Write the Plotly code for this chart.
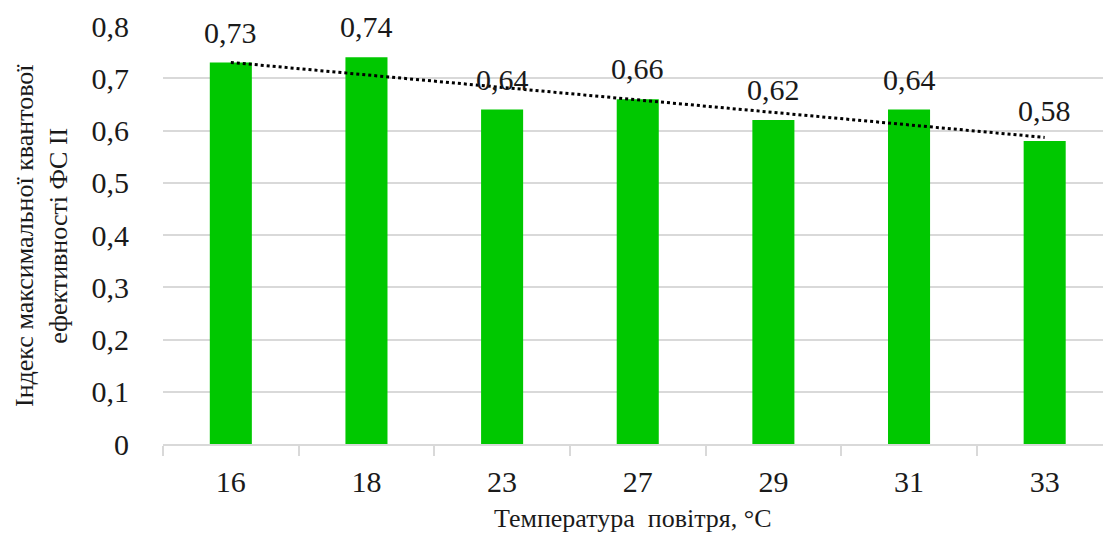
import numpy as np
import plotly.graph_objects as go

# Air temperature categories (°C) and PSII max quantum efficiency index
temperatures = ["16", "18", "23", "27", "29", "31", "33"]
fv_fm = [0.73, 0.74, 0.64, 0.66, 0.62, 0.64, 0.58]

y_tick_vals = [0, 0.1, 0.2, 0.3, 0.4, 0.5, 0.6, 0.7, 0.8]
y_tick_text = ["0", "0,1", "0,2", "0,3", "0,4", "0,5", "0,6", "0,7", "0,8"]

FONT = "Liberation Serif, Times New Roman, serif"
TEXT = "#1a1a1a"
BAR_COLOR = "#00C800"
GRID = "#D9D9D9"

# Linear trend over category positions 1..n
idx = np.arange(1, len(fv_fm) + 1)
slope, intercept = np.polyfit(idx, fv_fm, 1)
trend = slope * idx + intercept

fig = go.Figure()
fig.add_trace(go.Bar(
    x=temperatures, y=fv_fm,
    marker=dict(color=BAR_COLOR, line=dict(width=0)),
    hoverinfo="skip",
))
fig.add_trace(go.Scatter(
    x=temperatures, y=trend, mode="lines",
    line=dict(color="black", width=3, dash="dot"),
    hoverinfo="skip",
))

# Value labels above the bars (category index positions)
for i, v in enumerate(fv_fm):
    fig.add_annotation(
        x=i, y=v, xref="x", yref="y",
        text=f"{v:.2f}".replace(".", ","),
        showarrow=False, yanchor="bottom", yshift=12,
        font=dict(family=FONT, size=30, color=TEXT),
    )

# Axis titles
fig.add_annotation(
    x=-0.1298, y=0.5, xref="paper", yref="paper",
    text="Індекс максимальної квантової<br>ефективності ФС ІІ",
    textangle=-90, showarrow=False, xanchor="center", yanchor="middle",
    font=dict(family=FONT, size=26, color=TEXT),
)
fig.add_annotation(
    x=0.5, y=-0.178, xref="paper", yref="paper",
    text="Температура  повітря, °С",
    showarrow=False, xanchor="center", yanchor="middle",
    font=dict(family=FONT, size=26, color=TEXT),
)

fig.update_layout(
    width=1103, height=535,
    margin=dict(l=163, r=0, t=26, b=91),
    plot_bgcolor="white", paper_bgcolor="white",
    showlegend=False,
    bargap=0.69,
    font=dict(family=FONT, color=TEXT),
)
fig.update_xaxes(
    type="category",
    range=[-0.5, 6.43],
    tickson="boundaries", ticks="outside", ticklen=10, tickcolor=GRID, tickwidth=2,
    showline=True, linecolor=GRID, linewidth=2,
    showgrid=False,
    ticklabelstandoff=10,
    tickfont=dict(family=FONT, size=30, color=TEXT),
)
fig.update_yaxes(
    range=[0, 0.8],
    tickvals=y_tick_vals, ticktext=y_tick_text,
    showgrid=True, gridcolor=GRID, gridwidth=2,
    zeroline=False, showline=False, ticks="",
    ticklabelstandoff=33,
    tickfont=dict(family=FONT, size=30, color=TEXT),
)

fig.write_html("out.html")
